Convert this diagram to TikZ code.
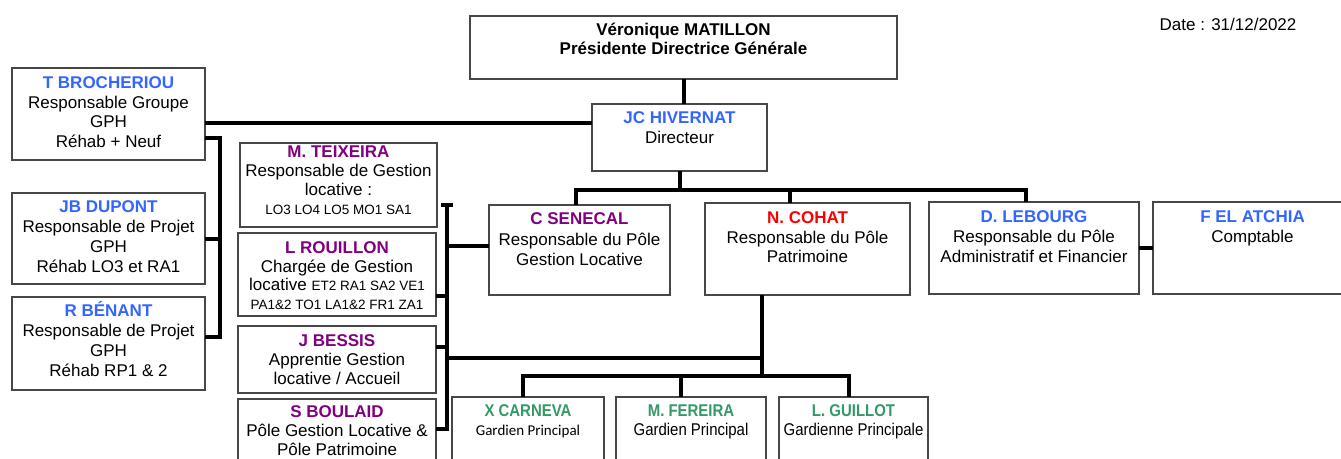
\documentclass[tikz,border=0pt]{standalone}
\usepackage{fontspec}
\setmainfont{Liberation Sans}
\newfontfamily\narrowsans[FakeStretch=0.88]{Liberation Sans}
\newfontfamily\calib{Carlito}
\definecolor{nblue}{RGB}{51,102,255}
\definecolor{npurple}{RGB}{128,0,128}
\definecolor{nred}{RGB}{255,0,0}
\definecolor{ngreen}{RGB}{51,153,102}
\newcommand\ft{\rule{0pt}{16pt}}
\newcommand\nm[2]{{\color{#1}\bfseries #2}}
\newcommand\sm{\fontsize{13.5}{19}\selectfont}
\newcommand\mkbox[5]{\node[box, minimum width={#4-#2}, minimum height={#5-#3}] (#1) at ({(#2+#4)/2},{(#3+#5)/2}) {};}
\tikzset{
  box/.style={draw=black!72, line width=1.2pt, inner sep=0pt, outer sep=0pt, fill=white},
  tx/.style={anchor=north, inner sep=0pt, align=center, font=\fontsize{17}{19.7}\selectfont},
  gtx/.style={anchor=north, inner sep=0pt, align=center, font=\narrowsans\fontsize{17}{19.3}\selectfont},
  conn/.style={line width=4pt, black},
}
\begin{document}
\begin{tikzpicture}[x=1pt,y=-1pt]
\useasboundingbox (0,0) rectangle (1341,458);
\clip (0,0) rectangle (1341,458);
\fill[white] (0,0) rectangle (1341,458);

% connectors (drawn first, boxes on top)
\coordinate (lb2) at (220,336.5);
\coordinate (mt) at (446.7,205);
\coordinate (mbot) at (446.7,429.3);
\coordinate (h1) at (576,190);
\coordinate (h2) at (790,190);
\coordinate (h3) at (1026,190);
\coordinate (gj) at (762,358.3);
\coordinate (gk) at (762,376);
\coordinate (gh1) at (522.7,376);
\coordinate (gh2) at (680.7,376);
\coordinate (gh3) at (849,376);

% boxes
\mkbox{ver}{470}{16}{897}{79}
\mkbox{jc}{592}{104}{767}{171}
\mkbox{tb}{12}{68}{205}{160}
\mkbox{jb}{12}{193}{205}{284}
\mkbox{rb}{12}{297}{205}{390}
\mkbox{tei}{240}{143}{437}{227}
\mkbox{rou}{238}{233}{436}{316}
\mkbox{bes}{238}{326}{436}{393}
\mkbox{sbl}{238}{399}{436}{470}
\mkbox{sen}{489}{205}{670}{295}
\mkbox{coh}{705}{203}{910}{295}
\mkbox{leb}{929}{202}{1139}{294}
\mkbox{ela}{1153}{202}{1352}{294}
\mkbox{ga}{452}{397}{604}{470}
\mkbox{gb}{616}{397}{766}{470}
\mkbox{gc}{779}{397}{928}{470}

% connectors
\draw[conn] (ver.south) -- (ver.south |- jc.north);
\draw[conn] ([yshift=-9.3pt]tb.east) coordinate (a1) -- (a1 -| jc.west);
\draw[conn] (jc.south) -- (jc.south |- h1);
\draw[conn] (h1 |- sen.north) -- (h1) -- (h3) -- (h3 |- leb.north);
\draw[conn] (h2) -- (h2 |- coh.north);
\draw[conn] (leb.east) -- (ela.west |- leb.east);
% left bracket
\draw[conn] ([yshift=-24pt]tb.east) -| (lb2) -- (lb2 -| rb.east);
\draw[conn] (jb.east) -- (jb.east -| lb2);
% middle bracket
\draw[conn] ([xshift=-6pt]mt) -- ([xshift=6pt]mt);
\draw[conn] (mt) -- (mbot) -- (mbot -| sbl.east);
\draw[conn] ([yshift=-21.5pt]rou.east) coordinate (a2) -- (a2 -| mt);
\draw[conn] ([yshift=12.8pt]bes.east) coordinate (a3) -- (a3 -| mt);
\draw[conn] ([yshift=4pt]sen.west) coordinate (a4) -- (a4 -| mt);
\draw[conn] (gj -| mt) -- (gj);
\draw[conn] (coh.south -| gk) -- (gk);
\draw[conn] (gh1 |- ga.north) -- (gh1) -- (gh3) -- (gh3 |- gc.north);
\draw[conn] (gh2) -- (gh2 |- gb.north);

% texts
\node[tx, font=\fontsize{17}{18.7}\selectfont\bfseries] (tver) at ([yshift=-3.7pt]ver.north) {\ft Véronique MATILLON\\Présidente Directrice Générale};
\node[tx] (tjc) at ([yshift=-3.3pt]jc.north) {\ft\nm{nblue}{JC HIVERNAT}\\Directeur};
\node[tx] (ttb) at ([yshift=-4.3pt]tb.north) {\ft\nm{nblue}{T BROCHERIOU}\\Responsable  Groupe\\GPH\\Réhab + Neuf};
\node[tx] (tjb) at ([yshift=-3.7pt]jb.north) {\ft\nm{nblue}{JB DUPONT}\\Responsable de Projet\\GPH\\Réhab LO3 et RA1};
\node[tx] (trb) at ([yshift=-3.7pt]rb.north) {\ft\nm{nblue}{R BÉNANT}\\Responsable de Projet\\GPH\\Réhab RP1 \& 2};
\node[tx, font=\fontsize{17}{19}\selectfont] (ttei) at ([yshift=1.7pt]tei.north) {\ft\nm{npurple}{M. TEIXEIRA}\\Responsable de Gestion\\locative :\\{\sm LO3 LO4 LO5 MO1 SA1}};
\node[tx, font=\fontsize{17}{18.8}\selectfont] (trou) at ([yshift=-4pt]rou.north) {\ft\nm{npurple}{L ROUILLON}\\Chargée de Gestion\\locative {\sm ET2 RA1 SA2 VE1}\\{\sm PA1\&2 TO1 LA1\&2 FR1 ZA1}};
\node[tx, font=\fontsize{17}{19.3}\selectfont] (tbes) at ([yshift=-4pt]bes.north) {\ft\nm{npurple}{J BESSIS}\\Apprentie Gestion\\locative / Accueil};
\node[tx, font=\fontsize{17}{19}\selectfont] (tsbl) at ([yshift=-2.7pt]sbl.north) {\ft\nm{npurple}{S BOULAID}\\Pôle Gestion Locative \&\\Pôle Patrimoine};
\node[tx, font=\fontsize{17}{20.8}\selectfont] (tsen) at ([yshift=-3pt]sen.north) {\ft\nm{npurple}{C SENECAL}\\Responsable du Pôle\\Gestion Locative};
\node[tx, font=\fontsize{17}{19.5}\selectfont] (tcoh) at ([yshift=-4.6pt]coh.north) {\ft\nm{nred}{N. COHAT}\\Responsable du Pôle\\Patrimoine};
\node[tx, font=\fontsize{17}{20}\selectfont] (tleb) at ([yshift=-4pt]leb.north) {\ft\nm{nblue}{D. LEBOURG}\\Responsable du Pôle\\Administratif et Financier};
\node[tx, font=\fontsize{17}{20}\selectfont] (tela) at ([yshift=-4pt]ela.north) {\ft\nm{nblue}{F EL ATCHIA}\\Comptable};
\node[gtx] (tga) at ([yshift=-3.4pt]ga.north) {\ft\nm{ngreen}{X CARNEVA}\\{\calib\fontsize{15}{19.3}\selectfont Gardien Principal}};
\node[gtx] (tgb) at ([yshift=-3.4pt]gb.north) {\ft\nm{ngreen}{M. FEREIRA}\\Gardien Principal};
\node[gtx] (tgc) at ([yshift=-3.4pt]gc.north) {\ft\nm{ngreen}{L. GUILLOT}\\Gardienne Principale};
\node[anchor=base, inner sep=0pt, font=\fontsize{17}{20}\selectfont] (date) at (1228,30.7) {Date : 31/12/2022};
\end{tikzpicture}
\end{document}
